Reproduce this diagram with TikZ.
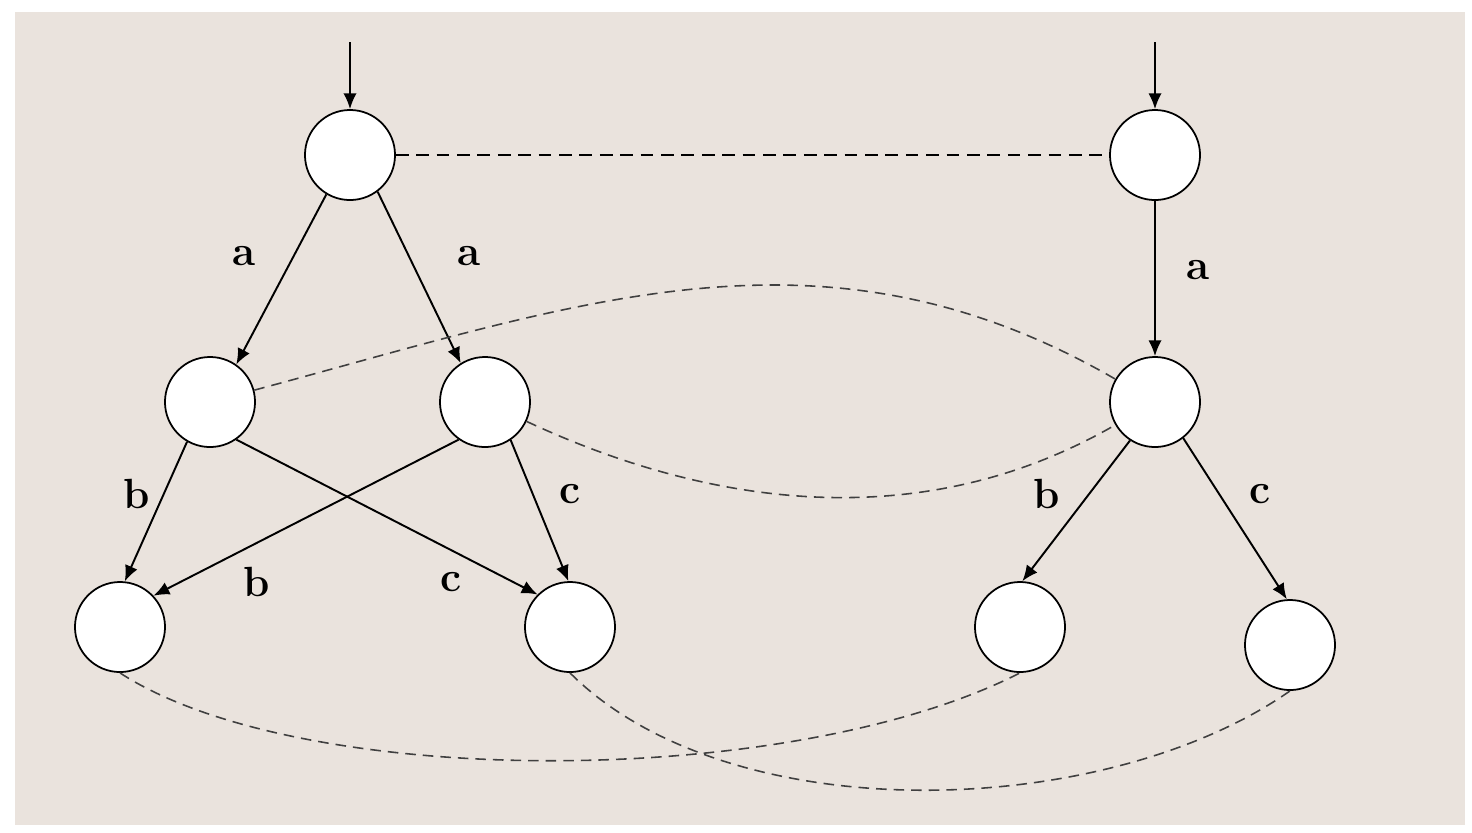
\documentclass[tikz,border=0pt]{standalone}
\usepackage{xcolor}
\usepackage{tikz}
\usetikzlibrary{arrows.meta, backgrounds}
\definecolor{paper}{RGB}{234,227,221}
\begin{document}
\begin{tikzpicture}[
    x=0.01cm, y=-0.01cm,
    vertex/.style={circle, draw=black, fill=white, line width=0.5pt, minimum size=0.9cm, inner sep=0pt},
    arrow/.style={-{Latex[length=4.5pt, width=3.8pt]}, line width=0.55pt},
    link/.style={dash pattern=on 3.6pt off 2.2pt, line width=0.7pt},
    bridge/.style={dash pattern=on 3pt off 2pt, line width=0.45pt, draw=black!75},
    lbl/.style={font=\large\bfseries}
]
    \useasboundingbox (0,0) rectangle (1472,832);
    \fill [paper] (15,12) rectangle (1465,825);

    \coordinate (inP) at (350,42);
    \coordinate (inQ) at (1155,42);

    \node [vertex] (p0) at (350,155) {};
    \node [vertex] (p1) at (210,402) {};
    \node [vertex] (p2) at (485,402) {};
    \node [vertex] (p3) at (120,627) {};
    \node [vertex] (p4) at (570,627) {};

    \node [vertex] (q0) at (1155,155) {};
    \node [vertex] (q1) at (1155,402) {};
    \node [vertex] (q2) at (1020,627) {};
    \node [vertex] (q3) at (1290,645) {};

    \draw [arrow] (inP) -- (p0);
    \draw [arrow] (inQ) -- (q0);
    \draw [arrow] (p0.239) -- (p1.55);
    \draw [arrow] (p0.-53) -- (p2.122);
    \draw [arrow] (p1.240) -- (p3.84);
    \draw [arrow] (p1.-55) -- (p4.135);
    \draw [arrow] (p2.235) -- (p3.43);
    \draw [arrow] (p2.-56) -- (p4.92);
    \draw [arrow] (q0) -- (q1);
    \draw [arrow] (q1.237) -- (q2.87);
    \draw [arrow] (q1.-52) -- (q3.94);

    \node [lbl] (a1) at (244,256) {a};
    \node [lbl] (a2) at (469,256) {a};
    \node [lbl] (a3) at (1198,270) {a};
    \node [lbl] (b1) at (137,494) {b};
    \node [lbl] (c1) at (570,494) {c};
    \node [lbl] (b2) at (257,582) {b};
    \node [lbl] (c2) at (451,582) {c};
    \node [lbl] (b3) at (1047,494) {b};
    \node [lbl] (c3) at (1260,494) {c};

    \draw [link] (p0) -- (q0);
    \draw [bridge] (p1) to [out=15, in=150, looseness=1] (q1);
    \draw [bridge] (p2) to [out=-25, in=210, looseness=0.93] (q1);
    \draw [bridge] (p3.south) .. controls (300,790) and (790,790) .. (q2.south);
    \draw [bridge] (p4.south) to [out=-45, in=215, looseness=0.8] (q3.south);
\end{tikzpicture}
\end{document}
